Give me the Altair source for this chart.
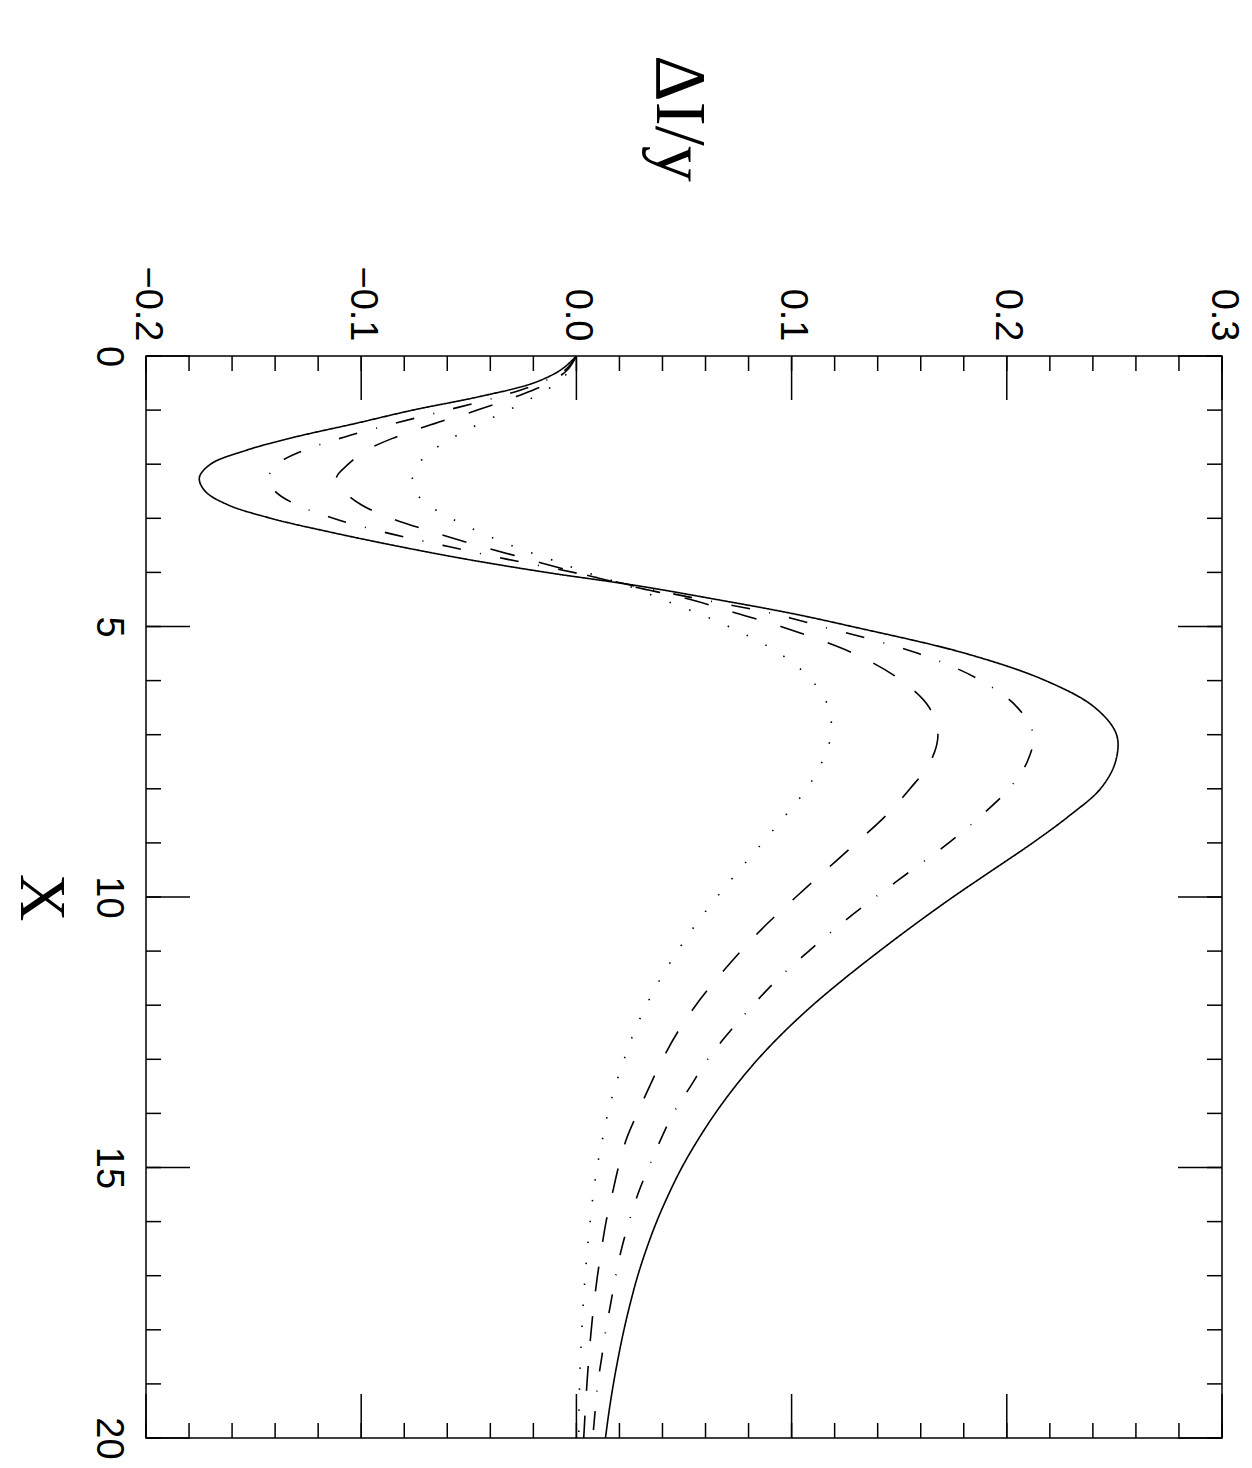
import altair as alt
import pandas as pd

# X values (vertical axis) at which the curves were read
X = [0, 0.25, 0.5, 0.75, 1.0, 1.25, 1.5, 1.75, 2.0, 2.25, 2.5, 2.75, 3.0, 3.25, 3.5, 3.75,
     4.0, 4.25, 4.5, 4.75, 5.0, 5.5, 6.0, 6.5, 7.0, 7.5, 8.0, 8.5, 9.0, 9.5, 10.0, 10.5,
     11.0, 11.5, 12.0, 12.5, 13.0, 13.5, 14.0, 14.5, 15.0, 15.5, 16.0, 16.5, 17.0, 17.5,
     18.0, 18.5, 19.0, 19.5, 20.0]

solid = [0.0, -0.007, -0.020, -0.045, -0.076, -0.103, -0.131, -0.154, -0.170, -0.1752,
         -0.1725, -0.162, -0.142, -0.115, -0.085, -0.052, -0.014, 0.029, 0.065, 0.099,
         0.128, 0.181, 0.218, 0.241, 0.251, 0.2505, 0.2435, 0.229, 0.212, 0.1935, 0.175,
         0.1575, 0.1408, 0.1248, 0.1098, 0.0963, 0.0843, 0.0738, 0.0645, 0.0563, 0.049,
         0.0428, 0.0373, 0.0326, 0.0285, 0.0251, 0.0221, 0.0195, 0.0172, 0.0152, 0.0135]

dashdot = [0.0, -0.005, -0.017, -0.036, -0.060, -0.085, -0.108, -0.127, -0.139, -0.143,
           -0.140, -0.130, -0.113, -0.090, -0.062, -0.033, -0.0015, 0.027, 0.058, 0.090,
           0.114, 0.159, 0.188, 0.205, 0.2123, 0.2095, 0.201, 0.188, 0.173, 0.156, 0.139,
           0.1228, 0.108, 0.094, 0.082, 0.071, 0.061, 0.053, 0.045, 0.039, 0.0335, 0.0285,
           0.0245, 0.021, 0.0183, 0.016, 0.0137, 0.0118, 0.0099, 0.0087, 0.0076]

dashed = [0.0, -0.004, -0.013, -0.028, -0.046, -0.066, -0.084, -0.098, -0.106, -0.1115,
          -0.108, -0.100, -0.086, -0.067, -0.046, -0.023, 0.0, 0.025, 0.053, 0.074,
          0.095, 0.129, 0.151, 0.164, 0.168, 0.1645, 0.155, 0.1437, 0.130, 0.116, 0.102,
          0.0885, 0.0764, 0.0655, 0.0555, 0.047, 0.040, 0.034, 0.0283, 0.023, 0.0195,
          0.0166, 0.0138, 0.0117, 0.0098, 0.0082, 0.0069, 0.0058, 0.0049, 0.0041, 0.0034]

dotted = [0.0, -0.003, -0.009, -0.0195, -0.0315, -0.045, -0.057, -0.067, -0.0735, -0.0762,
          -0.075, -0.069, -0.0583, -0.0452, -0.0305, -0.0128, 0.0048, 0.024, 0.040, 0.056,
          0.0707, 0.0945, 0.1095, 0.1172, 0.1183, 0.1142, 0.107, 0.097, 0.0864, 0.0757,
          0.0653, 0.0556, 0.047, 0.0392, 0.0325, 0.0268, 0.0222, 0.018, 0.0146, 0.012,
          0.0096, 0.0078, 0.0064, 0.0051, 0.0041, 0.0032, 0.0025, 0.0019, 0.0015, 0.0012,
          0.0011]

series_names = ["solid", "dashdot", "dashed", "dotted"]
series_dash = [[1, 0], [19, 19.5, 1, 19.5], [25, 25], [1.5, 19.5]]

# tick positions
x_minor = [-0.2, -0.18, -0.16, -0.14, -0.12, -0.1, -0.08, -0.06, -0.04, -0.02, 0.0,
           0.02, 0.04, 0.06, 0.08, 0.1, 0.12, 0.14, 0.16, 0.18, 0.2, 0.22, 0.24, 0.26,
           0.28, 0.3]
x_major = [-0.2, -0.1, 0.0, 0.1, 0.2, 0.3]
y_minor = [0, 1, 2, 3, 4, 5, 6, 7, 8, 9, 10, 11, 12, 13, 14, 15, 16, 17, 18, 19, 20]
y_major = [0, 5, 10, 15, 20]

rows = []
for name, vals in zip(series_names, [solid, dashdot, dashed, dotted]):
    for xv, v in zip(X, vals):
        rows.append({"series": name, "X": xv, "v": v})
df = pd.DataFrame(rows)

W, H = 1076, 1082
MINOR, MAJOR = 15, 44
SW = 1.5
PAD_L, PAD_T = 138, 348

xscale = alt.Scale(domain=[-0.2, 0.3], nice=False, zero=False)
yscale = alt.Scale(domain=[0, 20], reverse=True, nice=False, zero=False)

xaxis = alt.Axis(
    orient="top", values=x_major, format=".1f", labelAngle=90, labelAlign="right",
    labelBaseline="middle", labelPadding=15, ticks=False, tickSize=0, domain=False,
    grid=False, labelFont="Liberation Sans", labelFontSize=38, labelColor="black",
    labelFlush=False, labelOverlap=False, labelBound=False,
    title="ΔI/y", titleFont="Liberation Serif", titleFontSize=72, titleFontWeight="normal",
    titleColor="black", titleAngle=90, titleX=532, titleY=-238, titleAlign="center",
    titleBaseline="middle",
)
yaxis = alt.Axis(
    orient="left", values=y_major, format="d", labelAngle=90, labelAlign="center",
    labelBaseline="top", labelPadding=20, ticks=False, tickSize=0, domain=False,
    grid=False, labelFont="Liberation Sans", labelFontSize=38, labelColor="black",
    labelFlush=False, labelOverlap=False, labelBound=False,
    title="X", titleFont="Liberation Serif", titleFontSize=66, titleFontWeight="normal",
    titleColor="black", titleAngle=90, titleX=-106, titleY=541, titleAlign="center",
    titleBaseline="middle",
)

lines = alt.Chart(df).mark_line(
    color="black", strokeWidth=1.6, interpolate="catmull-rom", clip=True
).encode(
    x=alt.X("v:Q", scale=xscale, axis=xaxis, title="ΔI/y"),
    y=alt.Y("X:Q", scale=yscale, axis=yaxis, title="X"),
    order=alt.Order("X:Q"),
    strokeDash=alt.StrokeDash(
        "series:N", scale=alt.Scale(domain=series_names, range=series_dash), legend=None
    ),
)


def xticks(vals, y0, y1):
    return alt.Chart(pd.DataFrame({"t": vals})).mark_rule(color="black", strokeWidth=SW).encode(
        x=alt.X("t:Q", scale=xscale, axis=xaxis, title="ΔI/y"), y=alt.value(y0), y2=alt.value(y1)
    )


def yticks(vals, x0, x1):
    return alt.Chart(pd.DataFrame({"t": vals})).mark_rule(color="black", strokeWidth=SW).encode(
        y=alt.Y("t:Q", scale=yscale, axis=yaxis, title="X"), x=alt.value(x0), x2=alt.value(x1)
    )


ticks = [
    xticks(x_minor, 0, MINOR), xticks(x_major, 0, MAJOR),
    xticks(x_minor, H - MINOR, H), xticks(x_major, H - MAJOR, H),
    yticks(y_minor, 0, MINOR), yticks(y_major, 0, MAJOR),
    yticks(y_minor, W - MINOR, W), yticks(y_major, W - MAJOR, W),
]

chart = alt.layer(lines, *ticks).properties(
    width=W, height=H,
    autosize=alt.AutoSizeParams(type="none"),
    padding={"left": PAD_L, "top": PAD_T, "right": 22, "bottom": 22},
    background="white",
).configure_view(stroke="black", strokeWidth=SW)

chart.save("out.html", embed_options={"renderer": "svg", "actions": False})
